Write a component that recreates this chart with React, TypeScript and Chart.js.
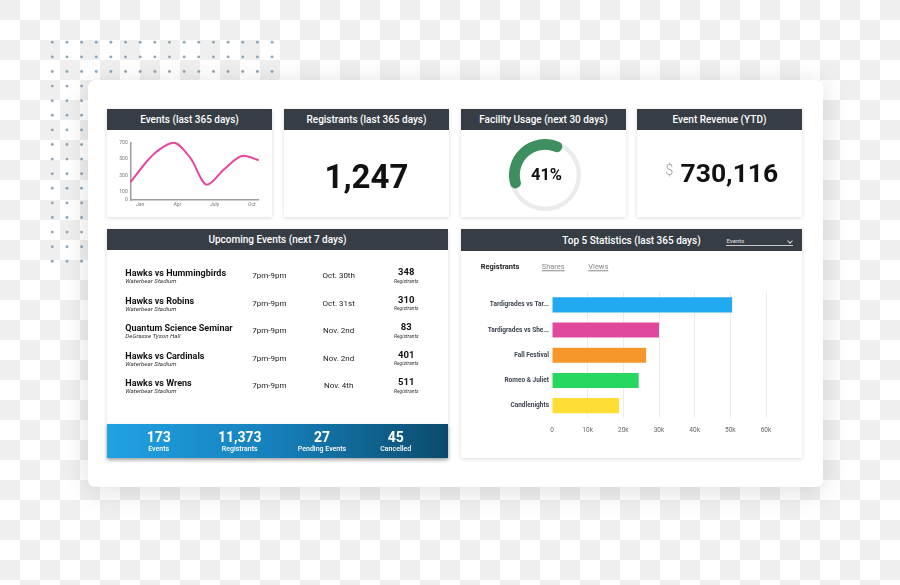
import React, { useEffect, useRef } from 'react';
import { Chart, registerables } from 'chart.js';

Chart.register(...registerables);
Chart.defaults.font.family = 'Roboto';

// ---- Events (last 365 days) line chart ----
const eventMonths = [-0.75, 0.56, 1.37, 2.7, 4.05, 5.39, 6.73, 8.34, 9.55];
const eventCounts = [218, 470, 591, 695, 510, 186, 368, 537, 482];
const monthTickValues = [0, 3, 6, 9];
const monthTickLabels = ['Jan', 'Apr', 'July', 'Oct'];
const eventYTicks = [0, 100, 300, 500, 700];

// ---- KPI values ----
const registrantsTotal = '1,247';
const facilityUsage = [41, 59];
const facilityLabel = '41%';
const revenueTotal = '730,116';

// ---- Upcoming events ----
const upcomingNames = ['Hawks vs Hummingbirds', 'Hawks vs Robins', 'Quantum Science Seminar', 'Hawks vs Cardinals', 'Hawks vs Wrens'];
const upcomingVenues = ['Waterbear Stadium', 'Waterbear Stadium', 'DeGrasse Tyson Hall', 'Waterbear Stadium', 'Waterbear Stadium'];
const upcomingTimes = ['7pm-9pm', '7pm-9pm', '7pm-9pm', '7pm-9pm', '7pm-9pm'];
const upcomingDates = ['Oct. 30th', 'Oct. 31st', 'Nov. 2nd', 'Nov. 2nd', 'Nov. 4th'];
const upcomingCounts = ['348', '310', '83', '401', '511'];
const summaryValues = ['173', '11,373', '27', '45'];
const summaryLabels = ['Events', 'Registrants', 'Pending Events', 'Cancelled'];

// ---- Top 5 statistics ----
const topLabels = ['Tardigrades vs Tar...', 'Tardigrades vs She...', 'Fall Festival', 'Romeo & Juliet', 'Candlenights'];
const topValues = [50500, 30000, 26400, 24300, 18800];
const topColors = ['#22aaf0', '#e0489b', '#f7962b', '#28d75f', '#fedd34'];
const topTickLabels = ['0', '10k', '20k', '30k', '40k', '50k', '60k'];
const topTabs = ['Registrants', 'Shares', 'Views'];

const dotIdx = Array.from({ length: 16 }, (_, i) => i);

function ChartCanvas({ make, left, top, width, height }: any) {
  const ref = useRef<HTMLCanvasElement>(null);
  useEffect(() => {
    const chart = new Chart(ref.current as HTMLCanvasElement, make());
    return () => chart.destroy();
  }, []);
  return (
    <canvas
      ref={ref}
      width={width}
      height={height}
      style={{ position: 'absolute', left, top, width, height }}
    />
  );
}

function T({ x, y, align = 'center', size, weight = 400, color = '#111', italic = false, underline = false, children }: any) {
  const tx = align === 'center' ? '-50%' : align === 'right' ? '-100%' : '0';
  return (
    <div
      style={{
        position: 'absolute',
        left: x,
        top: y,
        transform: `translate(${tx}, -50%)`,
        fontSize: size,
        fontWeight: weight,
        color,
        fontStyle: italic ? 'italic' : 'normal',
        textDecoration: underline ? 'underline' : 'none',
        lineHeight: 1,
        whiteSpace: 'nowrap',
      }}
    >
      {children}
    </div>
  );
}

function Panel({ left, top, width, height, title, headerHeight = 21 }: any) {
  return (
    <>
      <div
        style={{
          position: 'absolute',
          left,
          top,
          width,
          height,
          background: '#fff',
          boxShadow: '0 1px 4px rgba(0,0,0,0.15)',
        }}
      />
      <div
        style={{
          position: 'absolute',
          left,
          top,
          width,
          height: headerHeight,
          background: '#373d45',
          color: '#fff',
          fontSize: 10,
          fontWeight: 500,
          display: 'flex',
          alignItems: 'center',
          justifyContent: 'center',
          whiteSpace: 'nowrap',
        }}
      >
        {title}
      </div>
    </>
  );
}

const makeLine = () => ({
  type: 'line',
  data: {
    datasets: [
      {
        data: eventMonths.map((m, i) => ({ x: m, y: eventCounts[i] })),
        borderColor: '#e6479e',
        borderWidth: 2,
        pointRadius: 0,
        cubicInterpolationMode: 'monotone',
        fill: false,
        clip: 6,
      },
    ],
  },
  options: {
    responsive: false,
    animation: false,
    events: [],
    layout: { padding: { left: 0, top: 8.3, right: 7.3, bottom: 0 } },
    plugins: { legend: { display: false }, tooltip: { enabled: false } },
    scales: {
      x: {
        type: 'linear',
        min: -0.75,
        max: 9.55,
        grid: { display: false, drawTicks: false },
        border: { display: true, color: '#9d9d9d', width: 1.5 },
        afterBuildTicks: (s: any) => {
          s.ticks = monthTickValues.map((v) => ({ value: v }));
        },
        ticks: {
          callback: (v: any) => {
            const i = monthTickValues.indexOf(v);
            return i >= 0 ? monthTickLabels[i] : '';
          },
          font: { size: 5 },
          color: '#777',
          padding: 2,
          maxRotation: 0,
          autoSkip: false,
        },
        afterFit: (s: any) => {
          s.height = 12;
        },
      },
      y: {
        min: 0,
        max: 700,
        grid: { display: false, drawTicks: false },
        border: { display: true, color: '#9d9d9d', width: 1.5 },
        afterBuildTicks: (s: any) => {
          s.ticks = eventYTicks.map((v) => ({ value: v }));
        },
        ticks: { font: { size: 5 }, color: '#777', padding: 3, autoSkip: false },
        afterFit: (s: any) => {
          s.width = 20.7;
        },
      },
    },
  },
});

const makeTrack = () => ({
  type: 'doughnut',
  data: { datasets: [{ data: facilityUsage, backgroundColor: ['#ebebeb', '#ebebeb'], borderWidth: 0 }] },
  options: {
    responsive: false,
    animation: false,
    events: [],
    cutout: '88%',
    plugins: { legend: { display: false }, tooltip: { enabled: false } },
  },
});

const makeGauge = () => ({
  type: 'doughnut',
  data: {
    datasets: [
      {
        data: facilityUsage,
        backgroundColor: ['#3e8f60', 'rgba(0,0,0,0)'],
        borderWidth: 0,
        borderRadius: 5,
      },
    ],
  },
  options: {
    responsive: false,
    animation: false,
    events: [],
    rotation: 245,
    cutout: '70%',
    plugins: { legend: { display: false }, tooltip: { enabled: false } },
  },
});

const makeBar = () => ({
  type: 'bar',
  data: {
    labels: topLabels,
    datasets: [
      {
        data: topValues,
        backgroundColor: topColors,
        barPercentage: 0.6,
        categoryPercentage: 1,
      },
    ],
  },
  options: {
    indexAxis: 'y',
    responsive: false,
    animation: false,
    events: [],
    layout: { padding: { left: 0, top: 7.2, right: 14, bottom: 0 } },
    plugins: { legend: { display: false }, tooltip: { enabled: false } },
    scales: {
      x: {
        min: 0,
        max: 60000,
        grid: {
          color: (c: any) => (c.tick && c.tick.value === 0 ? 'rgba(0,0,0,0)' : '#ececec'),
          drawTicks: false,
        },
        border: { display: false },
        ticks: {
          stepSize: 10000,
          callback: (_v: any, i: number) => topTickLabels[i],
          font: { size: 6.5 },
          color: '#666',
          padding: 8,
          maxRotation: 0,
        },
        afterFit: (s: any) => {
          s.height = 18.7;
        },
      },
      y: {
        grid: { display: false, drawTicks: false },
        border: { display: false },
        ticks: { font: { size: 6.5, weight: 'bold' }, color: '#3d4452', padding: 3 },
        afterFit: (s: any) => {
          s.width = 82;
        },
      },
    },
  },
});

export default function App() {
  const rowY = [273, 300.6, 328, 355.6, 383];
  const sumX = [158.7, 239.7, 322, 395.7];
  return (
    <div
      style={{
        position: 'fixed',
        left: 0,
        top: 0,
        width: 900,
        height: 585,
        overflow: 'hidden',
        fontFamily: 'Roboto, sans-serif',
        background: 'conic-gradient(#ffffff 25%, #efefef 0 50%, #ffffff 0 75%, #efefef 0) 0 0 / 40px 40px',
      }}
    >
      {/* dot grid */}
      <svg width={900} height={585} style={{ position: 'absolute', left: 0, top: 0 }}>
        {dotIdx.map((r) =>
          dotIdx.map((c) => (
            <circle key={r + '-' + c} cx={52.3 + c * 14.65} cy={42.3 + r * 14.6} r={1.45} fill="#8fa7b9" />
          ))
        )}
      </svg>
      {/* main card */}
      <div
        style={{
          position: 'absolute',
          left: 88,
          top: 79.5,
          width: 735,
          height: 407,
          background: '#fff',
          borderRadius: 7,
          boxShadow: '0 4px 28px rgba(0,0,0,0.13)',
        }}
      />

      {/* Events panel */}
      <Panel left={107} top={109} width={165} height={108} title="Events (last 365 days)" />
      <ChartCanvas make={makeLine} left={110} top={134} width={156} height={78} />

      {/* Registrants panel */}
      <Panel left={284} top={109} width={165} height={108} title="Registrants (last 365 days)" />
      <T x={366.5} y={175.5} size={33} weight={700} color="#111">{registrantsTotal}</T>

      {/* Facility usage panel */}
      <Panel left={461} top={109} width={165} height={108} title="Facility Usage (next 30 days)" />
      <ChartCanvas make={makeTrack} left={509} top={138.5} width={72} height={72} />
      <ChartCanvas make={makeGauge} left={509} top={138.5} width={72} height={72} />
      <T x={546.5} y={174.7} size={16.5} weight={700} color="#111">{facilityLabel}</T>

      {/* Revenue panel */}
      <Panel left={637} top={109} width={165} height={108} title="Event Revenue (YTD)" />
      <T x={669.5} y={169.5} size={14} weight={300} color="#999">$</T>
      <T x={680.5} y={172.5} size={26.5} weight={700} color="#111" align="left">{revenueTotal}</T>

      {/* Upcoming events panel */}
      <Panel left={107} top={229} width={341} height={229} title="Upcoming Events (next 7 days)" />
      {upcomingNames.map((n, i) => (
        <React.Fragment key={n + i}>
          <T x={125.3} y={rowY[i]} size={9} weight={700} color="#111" align="left">{n}</T>
          <T x={125.3} y={rowY[i] + 8.3} size={6.2} italic color="#333" align="left">{upcomingVenues[i]}</T>
          <T x={269.3} y={rowY[i] + 3.3} size={8} color="#222">{upcomingTimes[i]}</T>
          <T x={338.7} y={rowY[i] + 3.3} size={8} color="#222">{upcomingDates[i]}</T>
          <T x={406.3} y={rowY[i] - 0.7} size={9.5} weight={700} color="#111">{upcomingCounts[i]}</T>
          <T x={406.3} y={rowY[i] + 7.7} size={5} italic color="#333">Registrants</T>
        </React.Fragment>
      ))}
      <div
        style={{
          position: 'absolute',
          left: 107,
          top: 424,
          width: 341,
          height: 33.5,
          background: 'linear-gradient(90deg, #20a2e3 0%, #167fba 50%, #0b4b6c 100%)',
          boxShadow: '0 2px 4px rgba(0,0,0,0.3)',
        }}
      />
      {summaryValues.map((v, i) => (
        <React.Fragment key={v}>
          <T x={sumX[i]} y={437} size={14} weight={700} color="#fff">{v}</T>
          <T x={sumX[i]} y={449.3} size={7} weight={500} color="#fff">{summaryLabels[i]}</T>
        </React.Fragment>
      ))}

      {/* Top 5 statistics panel */}
      <Panel left={461} top={229} width={341} height={229} headerHeight={22} title="Top 5 Statistics (last 365 days)" />
      <T x={726.5} y={240.8} size={6} color="#e0e0e0" align="left">Events</T>
      <div style={{ position: 'absolute', left: 725.7, top: 244.5, width: 67.6, height: 1, background: '#c8c8c8' }} />
      <div
        style={{
          position: 'absolute',
          left: 787.5,
          top: 238.5,
          width: 3,
          height: 3,
          borderRight: '1px solid #ddd',
          borderBottom: '1px solid #ddd',
          transform: 'rotate(45deg)',
        }}
      />
      <T x={480.7} y={267.3} size={7.5} weight={700} color="#222" align="left">{topTabs[0]}</T>
      <T x={541.7} y={267.3} size={7.5} color="#888" underline align="left">{topTabs[1]}</T>
      <T x={588.3} y={267.3} size={7.5} color="#888" underline align="left">{topTabs[2]}</T>
      <ChartCanvas make={makeBar} left={470} top={285} width={310} height={152} />
    </div>
  );
}
